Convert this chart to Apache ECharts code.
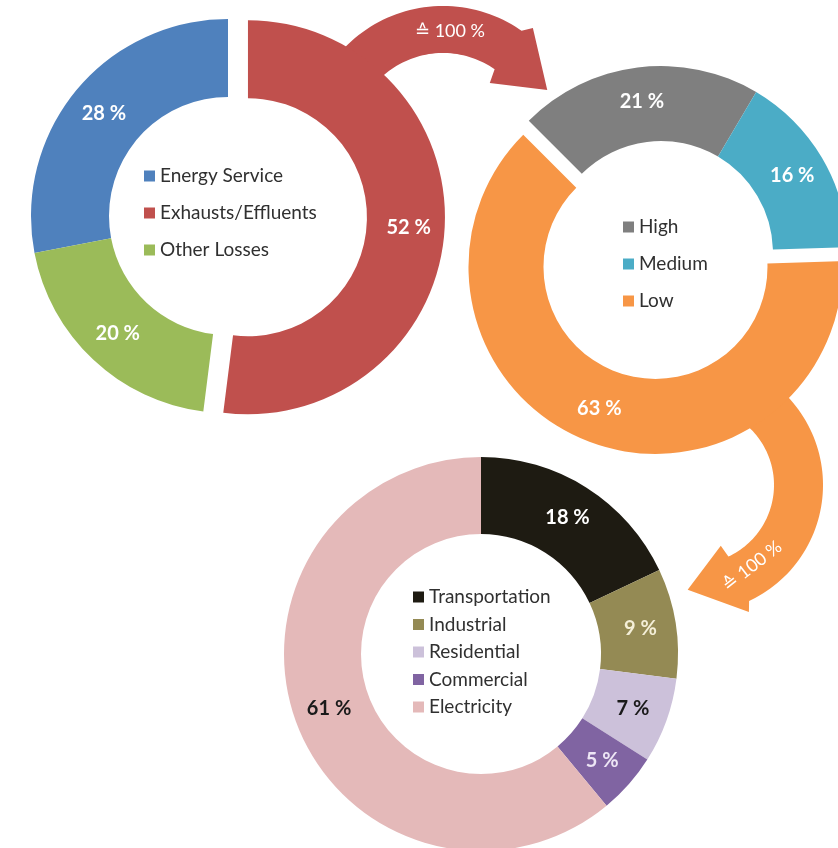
<!DOCTYPE html>
<html>
<head>
<meta charset="utf-8">
<script src="https://cdn.jsdelivr.net/npm/echarts@6/dist/echarts.min.js"></script>
<style>
html,body{margin:0;padding:0;background:#fff;}
#main{width:838px;height:848px;}
</style>
</head>
<body>
<div id="main"></div>
<script>
// ---- data ----
const lossCategories = ['Energy Service', 'Exhausts/Effluents', 'Other Losses'];
const lossValues = [28, 52, 20];
const lossColors = ['#4F81BD', '#C0504D', '#9BBB59'];

const tempCategories = ['High', 'Medium', 'Low'];
const tempValues = [21, 16, 63];
const tempColors = ['#7F7F7F', '#4BACC6', '#F79646'];

const sectorCategories = ['Transportation', 'Industrial', 'Residential', 'Commercial', 'Electricity'];
const sectorValues = [18, 9, 7, 5, 61];
const sectorColors = ['#1E1B12', '#948A54', '#CCC1DA', '#8064A2', '#E4B9B9'];
const sectorLabelColors = ['#ffffff', '#F4EFD8', '#1a1a1a', '#EDE6F5', '#1a1a1a'];

const arrowLabels = ['\u2259 100 %', '\u2259 100 %'];

// ---- helpers ----
const FONT = 'Lato, "Open Sans", sans-serif';
function pt(cx, cy, r, a) {
  const t = a * Math.PI / 180;
  return [cx + r * Math.sin(t), cy - r * Math.cos(t)];
}
function arcArrow(cx, cy, rIn, rOut, a0, a1, headA, headIn, headOut, tipA, tipR) {
  const pts = [];
  for (let a = a0; a <= a1; a += 2) pts.push(pt(cx, cy, rOut, a));
  pts.push(pt(cx, cy, rOut, a1));
  pts.push(pt(cx, cy, headOut, headA));
  pts.push(pt(cx, cy, tipR, tipA));
  pts.push(pt(cx, cy, headIn, headA));
  pts.push(pt(cx, cy, rIn, a1));
  for (let a = a1; a >= a0; a -= 2) pts.push(pt(cx, cy, rIn, a));
  return pts;
}

const labelBase = {
  show: true, position: 'inside', formatter: '{c} %',
  fontFamily: FONT, fontWeight: 'bold', fontSize: 20, color: '#fff'
};

const chart = echarts.init(document.getElementById('main'), null, {renderer: 'canvas'});
const legendText = {fontFamily: FONT, fontSize: 19, color: '#303030', lineHeight: 20};

chart.setOption({
  animation: false,
  backgroundColor: '#fff',
  graphic: [
    {type: 'polygon', z: 0, shape: {points: arcArrow(443, 143, 90, 137, 300, 395, 398, 76, 146, 423, 117)},
     style: {fill: '#C0504D'}},
    {type: 'text', z: 10, x: 450, y: 31,
     style: {text: arrowLabels[0], fill: '#fff', font: '18px ' + FONT, textAlign: 'center', textVerticalAlign: 'middle'}},
    {type: 'polygon', z: 0, shape: {points: arcArrow(695, 485, 79, 128, 40, 155, 157, 66, 138, 184, 105)},
     style: {fill: '#F79646'}},
    {type: 'text', z: 10, x: 752, y: 566, rotation: 38 * Math.PI / 180,
     style: {text: arrowLabels[1], fill: '#fff', font: '18px ' + FONT, textAlign: 'center', textVerticalAlign: 'middle'}}
  ],
  legend: [
    {data: lossCategories, orient: 'vertical', left: 144, top: 166, padding: 0, icon: 'rect', itemWidth: 11, itemHeight: 11,
     itemGap: 17, textStyle: legendText, selectedMode: false},
    {data: tempCategories, orient: 'vertical', left: 623, top: 217, padding: 0, icon: 'rect', itemWidth: 11, itemHeight: 11,
     itemGap: 17, textStyle: legendText, selectedMode: false},
    {data: sectorCategories, orient: 'vertical', left: 413, top: 587, padding: 0, icon: 'rect', itemWidth: 11, itemHeight: 11,
     itemGap: 7.5, textStyle: legendText, selectedMode: false}
  ],
  series: [
    {
      type: 'pie', z: 2, center: [228, 216], radius: [119, 197], startAngle: 190.8, clockwise: true,
      selectedMode: 'single', selectedOffset: 20, silent: true,
      label: labelBase, labelLine: {show: false}, emphasis: {disabled: true},
      data: lossCategories.map((n, i) => ({name: n, value: lossValues[i], selected: i === 1,
        itemStyle: {color: lossColors[i]}}))
    },
    {
      type: 'pie', z: 2, center: [661, 253], radius: [112, 187], startAngle: 135, clockwise: true,
      selectedMode: 'single', selectedOffset: 15, silent: true,
      label: labelBase, labelLine: {show: false}, emphasis: {disabled: true},
      data: tempCategories.map((n, i) => ({name: n, value: tempValues[i], selected: i === 2,
        itemStyle: {color: tempColors[i]}}))
    },
    {
      type: 'pie', z: 2, center: [481, 654], radius: [120, 197], startAngle: 90, clockwise: true,
      silent: true,
      label: labelBase, labelLine: {show: false}, emphasis: {disabled: true},
      data: sectorCategories.map((n, i) => ({name: n, value: sectorValues[i],
        itemStyle: {color: sectorColors[i]}, label: {color: sectorLabelColors[i]}}))
    }
  ]
});
</script>
</body>
</html>
